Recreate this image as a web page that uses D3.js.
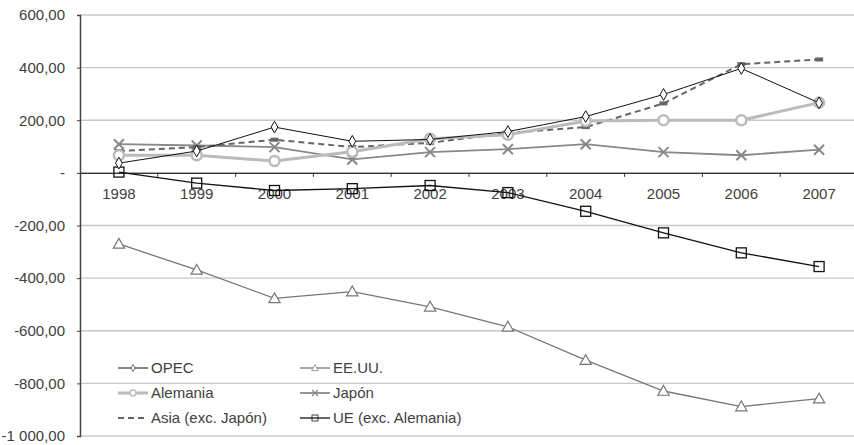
<!DOCTYPE html>
<html>
<head>
<meta charset="utf-8">
<script src="https://d3js.org/d3.v7.min.js"></script>
<style>
  body { margin: 0; background: #fff; }
  text { font-family: "Liberation Sans", Arial, sans-serif; fill: #404040; }
</style>
</head>
<body>
<div id="chart"></div>
<script>
var years = ["1998","1999","2000","2001","2002","2003","2004","2005","2006","2007"];
var opec     = [37, 83, 174, 120, 127, 157, 214, 298, 397, 266];
var eeuu     = [-270, -369, -477, -451, -509, -585, -712, -829, -888, -858];
var alemania = [67, 67, 45, 80, 130, 145, 197, 200, 200, 267];
var japon    = [109, 104, 98, 51, 79, 90, 109, 79, 67, 88];
var asia     = [83, 98, 126, 98, 114, 152, 174, 264, 413, 431];
var ue       = [3, -39, -67, -60, -48, -75, -146, -228, -304, -356];
var yTicks = [600, 400, 200, 0, -200, -400, -600, -800, -1000];
var yTickLabels = ["600,00", "400,00", "200,00", "-", "-200,00", "-400,00", "-600,00", "-800,00", "-1 000,00"];

var series = [
  {name: "OPEC", values: opec, color: "#111", width: 1, dash: null, marker: "diamond"},
  {name: "EE.UU.", values: eeuu, color: "#777", width: 1.3, dash: null, marker: "triangle"},
  {name: "Alemania", values: alemania, color: "#bbb", width: 3, dash: null, marker: "circle"},
  {name: "Japón", values: japon, color: "#888", width: 1.8, dash: null, marker: "x"},
  {name: "Asia (exc. Japón)", values: asia, color: "#666", width: 2, dash: "6,4", marker: "bar"},
  {name: "UE (exc. Alemania)", values: ue, color: "#111", width: 1.3, dash: null, marker: "square"}
];

var W = 854, H = 445;
var m = {left: 80, top: 15, right: -4, bottom: 9};
var svg = d3.select("#chart").append("svg").attr("width", W).attr("height", H);

var x = d3.scaleBand().domain(years).range([m.left, W - m.right]);
var y = d3.scaleLinear().domain([-1000, 600]).range([H - m.bottom, m.top]);

// grid
svg.append("g").selectAll("line").data(yTicks).enter().append("line")
  .attr("x1", m.left).attr("x2", W - m.right)
  .attr("y1", d => y(d)).attr("y2", d => y(d))
  .attr("stroke", "#c8c8c8").attr("stroke-width", 1.3);

// y axis
var yAxis = d3.axisLeft(y).tickValues(yTicks).tickSize(3).tickPadding(12)
  .tickFormat((d, i) => yTickLabels[i]);
var gy = svg.append("g").attr("transform", "translate(" + m.left + ",0)").call(yAxis);
gy.select(".domain").attr("stroke", "#444").attr("stroke-width", 1.5);
gy.selectAll(".tick line").attr("stroke", "#444");
gy.selectAll(".tick text").style("font-size", "15px").attr("fill", "#404040");

// x axis at zero
var xAxis = d3.axisBottom(x).tickSize(0).tickPadding(15);
var gx = svg.append("g").attr("transform", "translate(0," + y(0) + ")").call(xAxis);
gx.select(".domain").attr("stroke", "#333").attr("stroke-width", 1.3);
gx.selectAll(".tick text").style("font-size", "15px").attr("fill", "#404040");
svg.append("g").selectAll("line").data(years.slice(1)).enter().append("line")
  .attr("x1", d => x(d)).attr("x2", d => x(d))
  .attr("y1", y(0)).attr("y2", y(0) + 4)
  .attr("stroke", "#333");

var cx = d => x(d) + x.bandwidth() / 2;
var line = d3.line().x((d, i) => cx(years[i])).y(d => y(d));

function drawMarker(g, type, px, py, color) {
  if (type === "diamond") {
    g.append("path").attr("d", d3.symbol(d3.symbolDiamond, 40)())
      .attr("transform", "translate(" + px + "," + py + ")")
      .attr("fill", "#fff").attr("stroke", color).attr("stroke-width", 1);
  } else if (type === "triangle") {
    g.append("path").attr("d", d3.symbol(d3.symbolTriangle, 55)())
      .attr("transform", "translate(" + px + "," + (py + 1) + ")")
      .attr("fill", "#fff").attr("stroke", color).attr("stroke-width", 1.2);
  } else if (type === "circle") {
    g.append("circle").attr("cx", px).attr("cy", py).attr("r", 5)
      .attr("fill", "#fff").attr("stroke", color).attr("stroke-width", 2.5);
  } else if (type === "x") {
    g.append("path").attr("d", "M-5,-5L5,5M-5,5L5,-5")
      .attr("transform", "translate(" + px + "," + py + ")")
      .attr("stroke", color).attr("stroke-width", 2);
  } else if (type === "bar") {
    g.append("rect").attr("x", px - 4).attr("y", py - 2).attr("width", 8).attr("height", 4)
      .attr("fill", color);
  } else if (type === "square") {
    g.append("rect").attr("x", px - 5).attr("y", py - 5).attr("width", 10).attr("height", 10)
      .attr("fill", "none").attr("stroke", color).attr("stroke-width", 1.3);
  }
}

var drawOrder = [1, 5, 3, 4, 2, 0];
drawOrder.forEach(function(k) {
  var s = series[k];
  var g = svg.append("g");
  g.append("path").datum(s.values).attr("d", line)
    .attr("fill", "none").attr("stroke", s.color).attr("stroke-width", s.width)
    .attr("stroke-dasharray", s.dash);
  s.values.forEach(function(v, i) { drawMarker(g, s.marker, cx(years[i]), y(v), s.color); });
});

// legend
var legendPos = [[118, 368], [300, 368], [118, 393], [300, 393], [118, 418], [300, 418]];
var legendIdx = [0, 1, 2, 3, 4, 5];
legendIdx.forEach(function(k, j) {
  var s = series[k];
  var p = legendPos[j];
  var g = svg.append("g");
  g.append("line").attr("x1", p[0]).attr("x2", p[0] + 30).attr("y1", p[1]).attr("y2", p[1])
    .attr("stroke", s.color).attr("stroke-width", s.width).attr("stroke-dasharray", s.dash);
  if (s.marker !== "bar") {
    var mg = g.append("g").attr("transform", "translate(" + (p[0] + 15) + "," + p[1] + ") scale(0.6)");
    drawMarker(mg, s.marker, 0, 0, s.color);
  }
  g.append("text").attr("x", p[0] + 33).attr("y", p[1] + 5)
    .style("font-size", "15px").text(s.name);
});
</script>
</body>
</html>
